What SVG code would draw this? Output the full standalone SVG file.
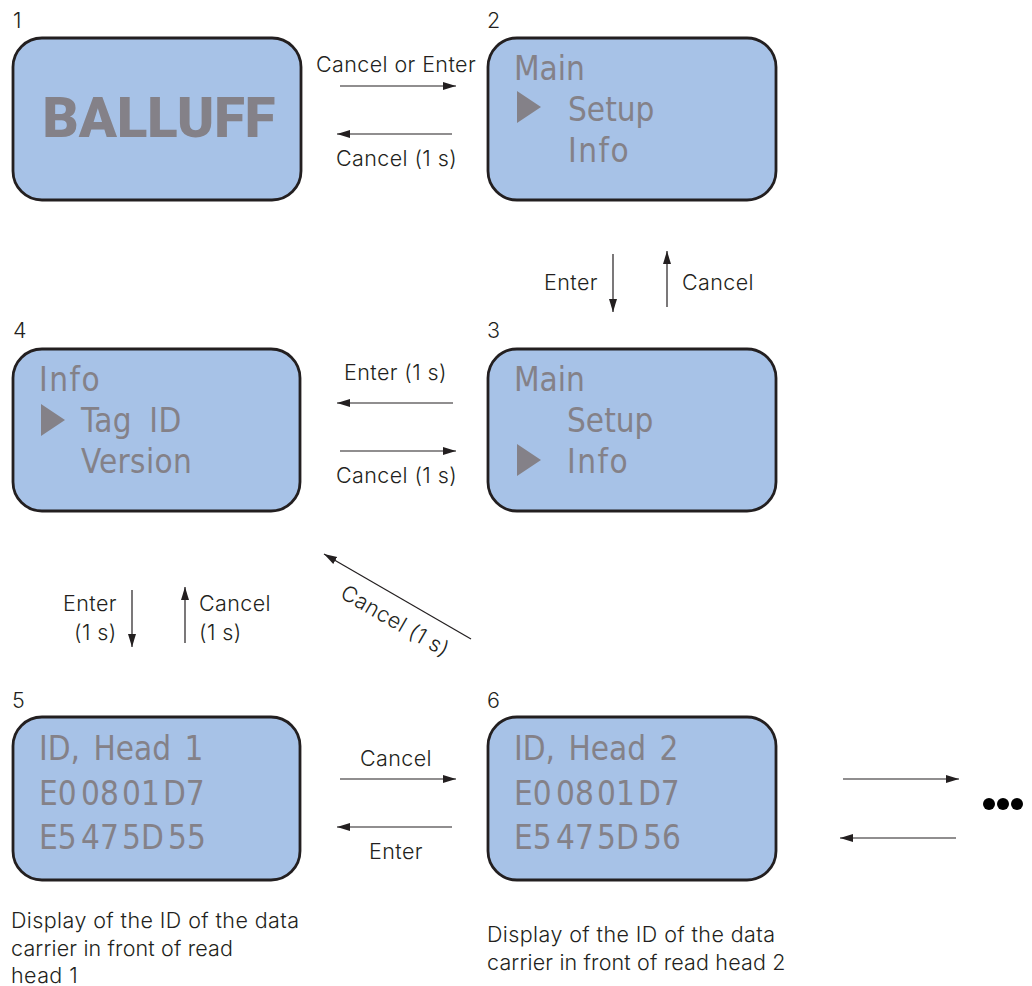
<svg xmlns="http://www.w3.org/2000/svg" width="1032" height="986" viewBox="0 0 1032 986">
<style>
.box{fill:#a7c2e7;stroke:#231f20;stroke-width:2.8}
.d{font-family:"DejaVu Sans Condensed","DejaVu Sans",sans-serif;font-size:33px;fill:#848188}
.i{letter-spacing:1.5px}
.w{word-spacing:4px}
.t{font-family:"Inter","Liberation Sans",sans-serif;font-weight:300;font-size:21.5px;letter-spacing:.4px;fill:#231f20}
.n{letter-spacing:.15px}
.c line{stroke:#231f20;stroke-width:1.2;marker-end:url(#a)}
.tri{fill:#848188}
</style>
<defs><marker id="a" markerUnits="userSpaceOnUse" markerWidth="14" markerHeight="10" refX="13" refY="4" orient="auto"><path d="M0,0L13,4L0,8Z" fill="#231f20"/></marker></defs>
<rect width="1032" height="986" fill="#fff"/>
<g id="connectors" class="c">
<line x1="340" y1="86" x2="456" y2="86"/>
<line x1="452" y1="134" x2="337" y2="134"/>
<line x1="613" y1="254" x2="613" y2="312"/>
<line x1="667" y1="307" x2="667" y2="251"/>
<line x1="453" y1="403" x2="337" y2="403"/>
<line x1="340" y1="451" x2="456" y2="451"/>
<line x1="132" y1="590" x2="132" y2="647"/>
<line x1="185" y1="643" x2="185" y2="587"/>
<line x1="471" y1="639" x2="324" y2="554"/>
<line x1="340" y1="779" x2="456" y2="779"/>
<line x1="452" y1="827" x2="337" y2="827"/>
<line x1="843" y1="779" x2="959" y2="779"/>
<line x1="956" y1="838" x2="840" y2="838"/>
</g>
<g id="node1"><rect class="box" x="13" y="38" width="288" height="162" rx="29"/><text x="159" y="137" text-anchor="middle" style="font-family:Roboto,'Liberation Sans',sans-serif;font-weight:900;font-size:56px;fill:#848188">BALLUFF</text><text class="t" x="13" y="28">1</text></g>
<g id="node2"><rect class="box" x="488" y="38" width="288" height="162" rx="29"/><text class="t" x="487" y="28">2</text><text class="d" x="514" y="80">Main</text><text class="d" x="568" y="121">Setup</text><text class="d i" x="568" y="162">Info</text><path class="tri" d="M517,91L541,107L517,123Z"/></g>
<g id="node3"><rect class="box" x="488" y="349" width="288" height="162" rx="29"/><text class="t" x="487" y="338">3</text><text class="d" x="514" y="391">Main</text><text class="d" x="567" y="432">Setup</text><text class="d i" x="567" y="473">Info</text><path class="tri" d="M517,444L541,460L517,476Z"/></g>
<g id="node4"><rect class="box" x="13" y="349" width="287" height="162" rx="29"/><text class="t" x="13" y="338">4</text><text class="d i" x="39" y="391">Info</text><text class="d" style="word-spacing:7px;letter-spacing:.5px" x="81" y="432">Tag ID</text><text class="d" style="letter-spacing:.3px" x="81" y="473">Version</text><path class="tri" d="M41,404L65,420L41,436Z"/></g>
<g id="node5"><rect class="box" x="13" y="717" width="287" height="163" rx="29"/><text class="t" x="12" y="708">5</text><text class="d w" x="39" y="760">ID, Head 1</text><text class="d" x="39" y="805">E0</text><text class="d" x="81" y="805">08</text><text class="d" x="122" y="805">01</text><text class="d" x="163" y="805">D7</text><text class="d" x="39" y="849">E5</text><text class="d" x="81" y="849">47</text><text class="d" x="122" y="849">5D</text><text class="d" x="168" y="849">55</text></g>
<g id="node6"><rect class="box" x="488" y="717" width="288" height="163" rx="29"/><text class="t" x="487" y="708">6</text><text class="d w" x="514" y="760">ID, Head 2</text><text class="d" x="514" y="805">E0</text><text class="d" x="556" y="805">08</text><text class="d" x="597" y="805">01</text><text class="d" x="638" y="805">D7</text><text class="d" x="514" y="849">E5</text><text class="d" x="556" y="849">47</text><text class="d" x="597" y="849">5D</text><text class="d" x="643" y="849">56</text></g>
<g id="labels">
<text class="t" x="316" y="72">Cancel or Enter</text>
<text class="t" x="336" y="166">Cancel (1 s)</text>
<text class="t" x="544" y="290">Enter</text>
<text class="t" x="682" y="290">Cancel</text>
<text class="t" x="344" y="380">Enter (1 s)</text>
<text class="t" x="336" y="483">Cancel (1 s)</text>
<text class="t" x="63" y="611">Enter</text>
<text class="t" x="74" y="640">(1 s)</text>
<text class="t" x="199" y="611">Cancel</text>
<text class="t" x="199" y="640">(1 s)</text>
<text class="t" transform="translate(339,597) rotate(30)">Cancel (1 s)</text>
<text class="t" x="360" y="766">Cancel</text>
<text class="t" x="369" y="859">Enter</text>
<text class="t" x="11" y="928">Display of the ID of the data</text>
<text class="t n" x="11" y="956">carrier in front of read</text>
<text class="t" x="11" y="983">head 1</text>
<text class="t" x="487" y="942">Display of the ID of the data</text>
<text class="t n" x="487" y="970">carrier in front of read head 2</text>
</g>
<g id="ellipsis" fill="#000"><circle cx="989" cy="804" r="6"/><circle cx="1003" cy="804" r="6"/><circle cx="1017" cy="804" r="6"/></g>
</svg>
